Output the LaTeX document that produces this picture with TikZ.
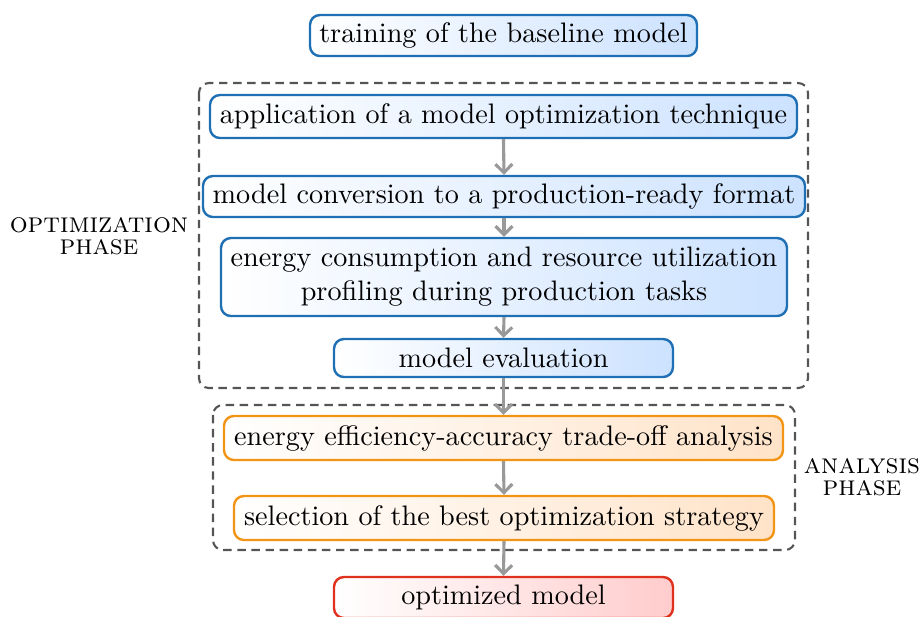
\documentclass[tikz,border=0pt]{standalone}
\usetikzlibrary{arrows.meta,shadings}
\definecolor{bborder}{HTML}{1F6FB4}
\definecolor{bfill}{HTML}{CCE2FF}
\definecolor{oborder}{HTML}{F29416}
\definecolor{ofill}{HTML}{FFE3C8}
\definecolor{rborder}{HTML}{E0301E}
\definecolor{rfill}{HTML}{FFCCCC}
\definecolor{arrgray}{HTML}{999999}
\definecolor{dashgray}{HTML}{555555}
\tikzset{
  box/.style={draw, rounded corners=3.5pt, line width=0.85pt, align=center, inner sep=0pt},
  bluebox/.style={box, draw=bborder, left color=white, right color=bfill},
  orangebox/.style={box, draw=oborder, left color=white, right color=ofill},
  redbox/.style={box, draw=rborder, left color=white, right color=rfill},
  phase/.style={draw=dashgray, dashed, dash pattern=on 3pt off 2pt, line width=0.75pt, rounded corners=3.5pt},
  flow/.style={draw=arrgray, line width=1.1pt, -{Straight Barb[length=3pt,width=6pt]}},
  plabel/.style={align=center, font=\scshape\fontsize{10}{8}\selectfont, inner sep=0pt}
}
\begin{document}
\begin{tikzpicture}[x=0.3546pt, y=-0.3546pt]
\useasboundingbox (0,0) rectangle (921,616);
% phases
\draw[phase] (199,83) rectangle (808,388);
\draw[phase] (213,405) rectangle (795,550);
% nodes
\node[bluebox, minimum width=387*0.3546pt, minimum height=41*0.3546pt] (train) at (503.5,35.5) {training of the baseline model};
\node[bluebox, minimum width=587*0.3546pt, minimum height=43*0.3546pt] (apply) at (503.5,116.5) {application of a model optimization technique};
\node[bluebox, minimum width=602*0.3546pt, minimum height=41*0.3546pt] (conv) at (504,196.5) {model conversion to a production-ready format};
\node[bluebox, minimum width=566*0.3546pt, minimum height=78*0.3546pt] (energy) at (504,277) {energy consumption and resource utilization\\profiling during production tasks};
\node[bluebox, minimum width=339*0.3546pt, minimum height=38*0.3546pt] (eval) at (503.5,358) {model evaluation};
\node[orangebox, minimum width=559*0.3546pt, minimum height=44*0.3546pt] (trade) at (503.5,438) {energy efficiency-accuracy trade-off analysis};
\node[orangebox, minimum width=540*0.3546pt, minimum height=44*0.3546pt] (select) at (504,518) {selection of the best optimization strategy};
\node[redbox, minimum width=339*0.3546pt, minimum height=41*0.3546pt] (opt) at (503.5,597.5) {optimized model};
% labels
\node[plabel] (optlabel) at (99,236) {optimization\\phase};
\node[plabel] (analabel) at (862,477) {analysis\\phase};
% arrows
\draw[flow] (apply.south) -- (conv.north);
\draw[flow] (conv.south) -- (energy.north);
\draw[flow] (energy.south) -- (eval.north);
\draw[flow] (eval.south) -- (trade.north);
\draw[flow] (trade.south) -- (select.north);
\draw[flow] (select.south) -- (opt.north);
\end{tikzpicture}
\end{document}
